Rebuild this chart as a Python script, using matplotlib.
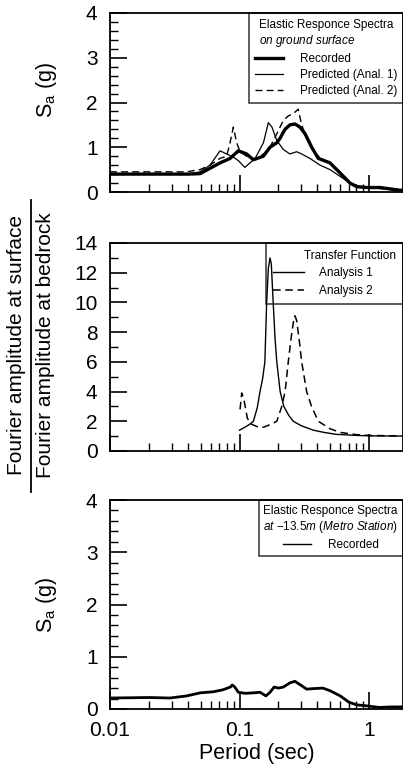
import numpy as np
import matplotlib
matplotlib.use("Agg")
import matplotlib.pyplot as plt
from matplotlib.ticker import FixedLocator, MultipleLocator, LogLocator, NullFormatter
from matplotlib.lines import Line2D

plt.rcParams['font.family'] = ['Liberation Sans', 'DejaVu Sans']
plt.rcParams['mathtext.fontset'] = 'custom'
plt.rcParams['mathtext.rm'] = 'Liberation Sans'
plt.rcParams['mathtext.it'] = 'Liberation Sans:italic'

# top panel: response spectra on ground surface
t_rec = [0.01, 0.02, 0.03, 0.04, 0.0495, 0.0707, 0.0845, 0.098, 0.1135, 0.128, 0.153, 0.172,
         0.194, 0.2055, 0.2245, 0.245, 0.268, 0.293, 0.321, 0.361, 0.406, 0.471, 0.5, 0.563,
         0.634, 0.713, 0.804, 0.96, 1.22, 1.45, 1.73, 2.0]
sa_rec = [0.4, 0.4, 0.4, 0.4, 0.41, 0.65, 0.75, 0.92, 0.85, 0.72, 0.8, 1.0,
          1.1, 1.2, 1.4, 1.5, 1.52, 1.45, 1.3, 1.0, 0.75, 0.68, 0.65, 0.5,
          0.35, 0.2, 0.12, 0.1, 0.1, 0.07, 0.04, 0.03]
t_an1 = [0.01, 0.02, 0.03, 0.04, 0.0495, 0.0592, 0.0707, 0.0796, 0.0896, 0.098, 0.11, 0.1205,
         0.132, 0.153, 0.167, 0.178, 0.194, 0.218, 0.245, 0.276, 0.302, 0.35, 0.419, 0.5,
         0.634, 0.757, 0.96, 1.29, 1.73, 2.0]
sa_an1 = [0.4, 0.4, 0.4, 0.4, 0.45, 0.6, 0.92, 0.85, 0.78, 0.7, 0.55, 0.65,
          0.75, 1.1, 1.55, 1.45, 1.15, 0.95, 0.85, 0.9, 0.85, 0.75, 0.6, 0.5,
          0.3, 0.15, 0.1, 0.07, 0.03, 0.02]
t_an2 = [0.01, 0.02, 0.03, 0.039, 0.0495, 0.0592, 0.0707, 0.0796, 0.0845, 0.0896, 0.0951, 0.101,
         0.1205, 0.136, 0.153, 0.172, 0.194, 0.218, 0.238, 0.26, 0.284, 0.302, 0.33, 0.361,
         0.419, 0.485, 0.597, 0.713, 0.853, 1.22, 1.73, 2.0]
sa_an2 = [0.45, 0.45, 0.45, 0.45, 0.5, 0.6, 0.75, 0.8, 1.1, 1.45, 1.1, 0.9,
          0.75, 0.75, 0.85, 1.0, 1.3, 1.6, 1.7, 1.75, 1.85, 1.5, 1.2, 1.0,
          0.75, 0.68, 0.45, 0.2, 0.12, 0.1, 0.05, 0.04]

# middle panel: transfer functions
t_tf1 = [0.1, 0.11, 0.12, 0.128, 0.137, 0.144, 0.151, 0.157, 0.162, 0.167, 0.172, 0.176,
         0.182, 0.188, 0.194, 0.206, 0.22, 0.24, 0.26, 0.3, 0.372, 0.45, 0.56, 0.8, 1.0, 2.0]
tf1 = [1.4, 1.6, 1.8, 2.0, 2.9, 4.0, 4.9, 6.0, 10.0, 12.3, 13.0, 12.6,
       10.0, 7.6, 6.0, 4.0, 3.0, 2.4, 2.0, 1.7, 1.4, 1.25, 1.12, 1.05, 1.02, 1.0]
t_tf2 = [0.101, 0.104, 0.108, 0.115, 0.124, 0.14, 0.153, 0.175, 0.194, 0.212, 0.225, 0.238,
         0.252, 0.262, 0.268, 0.276, 0.288, 0.302, 0.33, 0.36, 0.406, 0.5, 0.6, 0.8, 1.0, 2.0]
tf2 = [2.8, 3.9, 3.5, 2.2, 1.8, 1.6, 1.6, 1.8, 2.0, 3.0, 4.0, 6.0,
       7.8, 8.8, 9.1, 8.8, 7.6, 6.0, 4.0, 3.0, 2.0, 1.5, 1.25, 1.1, 1.05, 1.0]

# bottom panel: response spectrum at -13.5 m
t_deep = [0.01, 0.02, 0.029, 0.039, 0.05, 0.063, 0.075, 0.085, 0.088, 0.092, 0.098, 0.11,
          0.13, 0.144, 0.16, 0.172, 0.185, 0.2, 0.218, 0.245, 0.268, 0.3, 0.33, 0.37,
          0.44, 0.5, 0.6, 0.7, 0.8, 0.96, 1.2, 1.5, 2.0]
sa_deep = [0.21, 0.22, 0.21, 0.25, 0.31, 0.33, 0.37, 0.42, 0.46, 0.42, 0.32, 0.3,
           0.31, 0.32, 0.25, 0.32, 0.42, 0.4, 0.42, 0.5, 0.53, 0.45, 0.38, 0.39,
           0.4, 0.35, 0.25, 0.13, 0.08, 0.06, 0.03, 0.04, 0.04]

W, H = 403, 772
fig = plt.figure(figsize=(W / 100, H / 100), dpi=100)

def ax_at(top, bottom):
    left, right = 110, 403
    return fig.add_axes([left / W, 1 - bottom / H, (right - left) / W, (bottom - top) / H])

ax1 = ax_at(13, 192)
ax2 = ax_at(243, 451)
ax3 = ax_at(500, 709)

for ax in (ax1, ax2, ax3):
    ax.set_xscale("log")
    ax.set_xlim(0.01, 1.83)
    ax.xaxis.set_major_locator(FixedLocator([0.01, 0.1, 1]))
    ax.xaxis.set_minor_locator(LogLocator(base=10, subs=np.arange(2, 10)))
    ax.xaxis.set_minor_formatter(NullFormatter())
    ax.tick_params(which="both", direction="in", top=False, right=False, labelsize=15)
    ax.tick_params(which="major", length=12, width=1.2, pad=9)
    ax.tick_params(which="minor", length=6, width=1)
    for s in ax.spines.values():
        s.set_linewidth(1.3)

for ax in (ax1, ax3):
    ax.set_ylim(0, 4)
    ax.yaxis.set_major_locator(MultipleLocator(1))
    ax.yaxis.set_minor_locator(MultipleLocator(0.2))
    ax.set_ylabel(r"S$_\mathrm{a}$ (g)", fontsize=15.5)
ax1.yaxis.set_label_coords(-0.175, 0.57)
ax3.yaxis.set_label_coords(-0.175, 0.5)

ax2.set_ylim(0, 14)
ax2.yaxis.set_major_locator(MultipleLocator(2))
ax2.yaxis.set_minor_locator(MultipleLocator(1))

ax1.tick_params(labelbottom=False)
ax2.tick_params(labelbottom=False)
ax3.set_xticklabels(["0.01", "0.1", "1"])
ax3.set_xlabel("Period (sec)", fontsize=15.5, labelpad=2)

ax1.plot(t_rec, sa_rec, color="black", lw=2.4, label="Recorded")
ax1.plot(t_an1, sa_an1, color="black", lw=0.9, label="Predicted (Anal. 1)")
ax1.plot(t_an2, sa_an2, color="black", lw=1.0, ls=(0, (5, 3)), label="Predicted (Anal. 2)")

ax2.plot(t_tf1, tf1, color="black", lw=1.0, label="Analysis 1       ")
ax2.plot(t_tf2, tf2, color="black", lw=1.1, ls=(0, (5, 3)), label="Analysis 2       ")

ax3.plot(t_deep, sa_deep, color="black", lw=2.0, label="Recorded")

leg_kw = dict(loc="upper right", fontsize=8.5, title_fontsize=8.5, fancybox=False,
              edgecolor="black", facecolor="none", framealpha=None, borderaxespad=0,
              handlelength=2.4, labelspacing=0.35, borderpad=0.5, handletextpad=1.4)

l1 = ax1.legend(title="Elastic Responce Spectra\n$\\it{on\\ ground\\ surface}$", **leg_kw)
leg_kw.update(labelspacing=0.45, handlelength=2.6, handletextpad=1.3, borderpad=0.6)
l2 = ax2.legend(title="Transfer Function", **leg_kw)
leg_kw.update(labelspacing=0.35, handlelength=2.4, handletextpad=1.4, borderpad=0.4)
l3 = ax3.legend(title="Elastic Responce Spectra\n$\\it{at\\ {-}13.5m\\ (Metro\\ Station)}$",
                **leg_kw)
for lg in (l1, l2, l3):
    lg.get_frame().set_linewidth(1.1)
    lg._legend_box.align = "center"
l2._legend_box.align = "right"
l3.get_lines()[0].set_linewidth(1.0)

# shared fraction label for the transfer function panel
cy = 1 - 345 / H
fig.text(17 / W, cy, "Fourier amplitude at surface", rotation=90, fontsize=15,
         ha="center", va="center")
fig.text(46 / W, cy, "Fourier amplitude at bedrock", rotation=90, fontsize=15,
         ha="center", va="center")
fig.add_artist(Line2D([31 / W, 31 / W], [1 - 492 / H, 1 - 200 / H], color="black", lw=1.3,
                      transform=fig.transFigure))

fig.savefig("out.png", dpi=100)
